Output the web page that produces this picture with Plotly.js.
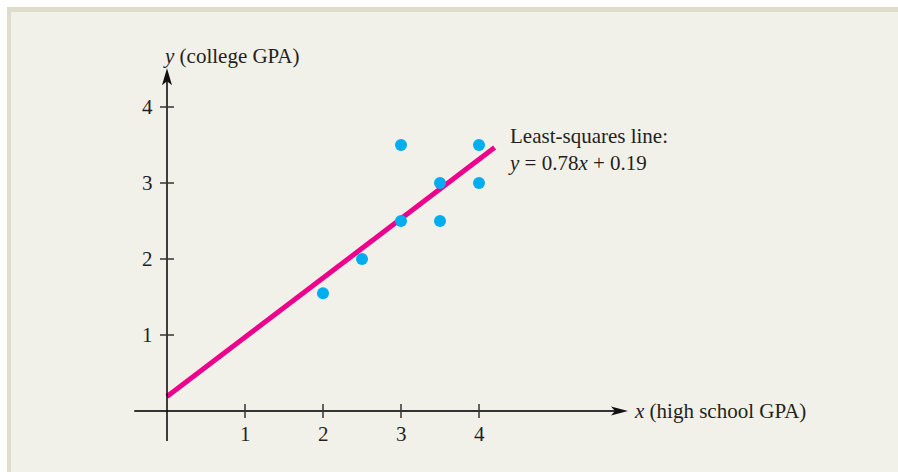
<!DOCTYPE html>
<html>
<head>
<meta charset="utf-8">
<script src="https://cdn.plot.ly/plotly-3.0.1.min.js"></script>
<style>html,body{margin:0;padding:0;background:#fff;}#chart{width:898px;height:472px;}</style>
</head>
<body>
<div id="chart"></div>
<script>
// Data
const hsGPA = [2, 2.5, 3, 3, 3.5, 3.5, 4, 4];
const collegeGPA = [1.55, 2, 2.5, 3.5, 3, 2.5, 3.5, 3];
const slope = 0.78;
const intercept = 0.19;
const lineX = [0, 4.2];
const xTicks = [1, 2, 3, 4];
const yTicks = [1, 2, 3, 4];
const xAxisSpan = [-0.42, 5.91];
const yAxisSpan = [-0.395, 4.51];

const W = 898, H = 472;
// pixel mapping used for ranges: px = 167 + 78x ; py = 411 - 76y
const xRange = [-167 / 78, (W - 167) / 78];
const yRange = [(411 - H) / 76, 411 / 76];

const ink = '#231f20';
const font = {family: '"Liberation Serif", "Times New Roman", serif', size: 21, color: ink};

const traces = [
  {
    x: lineX, y: lineX.map(v => slope * v + intercept),
    mode: 'lines', line: {color: '#ec008c', width: 5}, hoverinfo: 'skip'
  },
  {
    x: hsGPA, y: collegeGPA, mode: 'markers',
    marker: {color: '#00aeef', size: 12}, hoverinfo: 'skip'
  }
];

const tx = 7 / 78, ty = 7 / 76;
const shapes = [
  {type: 'rect', xref: 'paper', yref: 'paper', x0: 7 / W, x1: 1, y0: 0, y1: 1 - 7 / H,
   fillcolor: '#dddccd', line: {width: 0}, layer: 'below'},
  {type: 'rect', xref: 'paper', yref: 'paper', x0: 11 / W, x1: 1, y0: 0, y1: 1 - 12 / H,
   fillcolor: '#f2f1e9', line: {width: 0}, layer: 'below'},
  // axis lines
  {type: 'line', xref: 'x', yref: 'y', x0: xAxisSpan[0], x1: xAxisSpan[1] - 10 / 78, y0: 0, y1: 0,
   line: {color: '#333', width: 2}},
  {type: 'line', xref: 'x', yref: 'y', x0: 0, x1: 0, y0: yAxisSpan[0], y1: yAxisSpan[1] - 10 / 76,
   line: {color: '#111', width: 1.6}},
  // arrowheads (pixel-sized, anchored at axis ends)
  {type: 'path', xref: 'x', yref: 'y', xsizemode: 'pixel', ysizemode: 'pixel',
   xanchor: xAxisSpan[1], yanchor: 0, path: 'M0,0 L-17,4.5 L-13,0 L-17,-4.5 Z',
   fillcolor: '#111', line: {width: 0}},
  {type: 'path', xref: 'x', yref: 'y', xsizemode: 'pixel', ysizemode: 'pixel',
   xanchor: 0, yanchor: yAxisSpan[1], path: 'M0,0 L-5,-17 L0,-13 L5,-17 Z',
   fillcolor: '#111', line: {width: 0}}
];
xTicks.forEach(v => shapes.push({type: 'line', xref: 'x', yref: 'y', x0: v, x1: v, y0: -ty, y1: ty,
  line: {color: '#333', width: 1.5}}));
yTicks.forEach(v => shapes.push({type: 'line', xref: 'x', yref: 'y', x0: -tx, x1: tx, y0: v, y1: v,
  line: {color: '#333', width: 1.5}}));

const annotations = [
  {x: -6 / 78, y: (411 - 56) / 76, xref: 'x', yref: 'y', xanchor: 'left', yanchor: 'middle',
   text: '<i>y</i> (college GPA)', showarrow: false, font: font},
  {x: (632 - 167) / 78, y: 0, xref: 'x', yref: 'y', xanchor: 'left', yanchor: 'middle',
   text: '<i>x</i> (high school GPA)', showarrow: false, font: font},
  {x: (506 - 167) / 78, y: (411 - 149.5) / 76, xref: 'x', yref: 'y', xanchor: 'left', yanchor: 'middle',
   align: 'left', showarrow: false, font: font,
   text: 'Least-squares line:<br><i>y</i> = ' + slope.toFixed(2) + '<i>x</i> + ' + intercept.toFixed(2)}
];
xTicks.forEach(v => annotations.push({x: v, y: -23 / 76, xref: 'x', yref: 'y', xanchor: 'center',
  yanchor: 'middle', text: String(v), showarrow: false, font: font}));
yTicks.forEach(v => annotations.push({x: -12 / 78, y: v, xref: 'x', yref: 'y', xanchor: 'right',
  yanchor: 'middle', text: String(v), showarrow: false, font: font}));

const layout = {
  width: W, height: H,
  margin: {l: 0, r: 0, t: 0, b: 0, pad: 0},
  paper_bgcolor: '#ffffff', plot_bgcolor: 'rgba(0,0,0,0)',
  showlegend: false,
  xaxis: {range: xRange, visible: false, fixedrange: true},
  yaxis: {range: yRange, visible: false, fixedrange: true},
  shapes: shapes, annotations: annotations
};

Plotly.newPlot('chart', traces, layout, {displayModeBar: false, staticPlot: true});
</script>
</body>
</html>
